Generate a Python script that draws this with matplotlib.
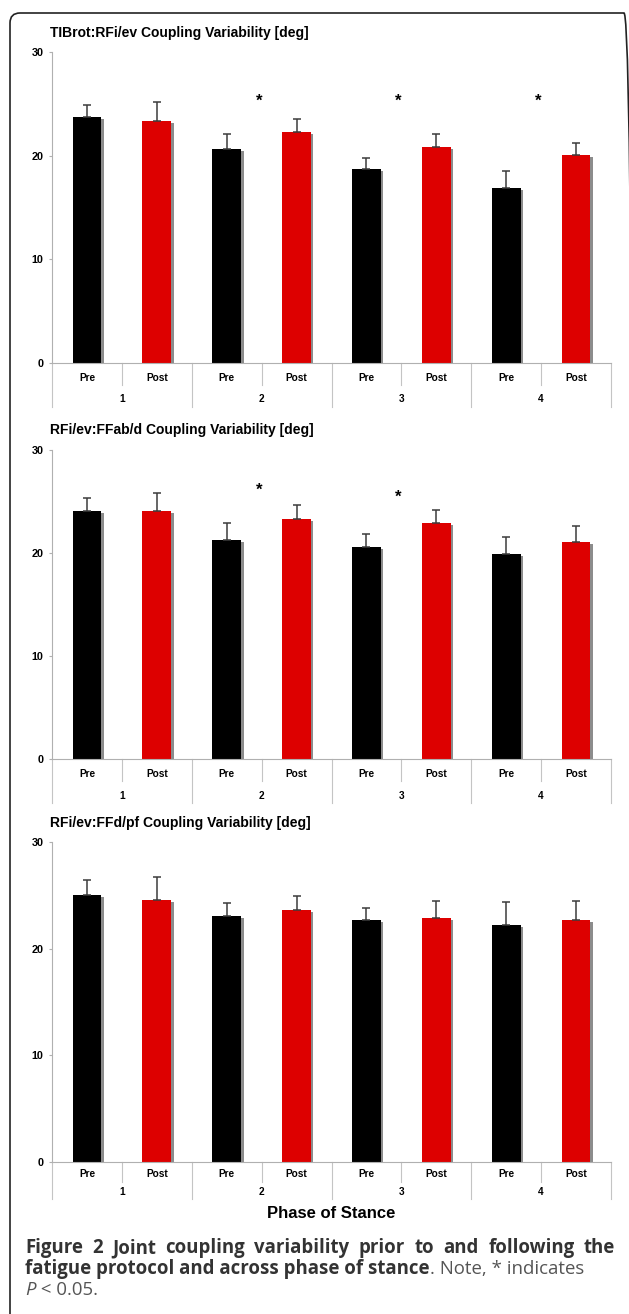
import matplotlib
matplotlib.use("Agg")
import matplotlib.pyplot as plt
from matplotlib.patches import FancyBboxPatch
from matplotlib.transforms import IdentityTransform
from matplotlib.font_manager import FontProperties
import numpy as np

# ---- data ----
phases = ["1", "2", "3", "4"]
conds = ["Pre", "Post"]

titles = ["TIBrot:RFi/ev Coupling Variability [deg]",
          "RFi/ev:FFab/d Coupling Variability [deg]",
          "RFi/ev:FFd/pf Coupling Variability [deg]"]

p1_pre = [23.7, 20.6, 18.7, 16.9]
p1_pre_sd = [1.2, 1.5, 1.1, 1.6]
p1_post = [23.3, 22.3, 20.8, 20.1]
p1_post_sd = [1.9, 1.2, 1.3, 1.1]
p1_stars = {2: 25.2, 3: 25.2, 4: 25.2}

p2_pre = [24.1, 21.3, 20.6, 19.9]
p2_pre_sd = [1.2, 1.6, 1.2, 1.7]
p2_post = [24.1, 23.3, 22.9, 21.1]
p2_post_sd = [1.7, 1.4, 1.3, 1.5]
p2_stars = {2: 26.1, 3: 25.4}

p3_pre = [25.0, 23.1, 22.7, 22.2]
p3_pre_sd = [1.4, 1.2, 1.1, 2.2]
p3_post = [24.6, 23.6, 22.9, 22.7]
p3_post_sd = [2.1, 1.3, 1.6, 1.8]
p3_stars = {}

W, H = 629, 1314
fig = plt.figure(figsize=(W / 100, H / 100), dpi=100)
fig.patch.set_facecolor("white")

# outer rounded frame (right side runs just off the image)
frame = FancyBboxPatch((10, -30), 624, 1331, boxstyle="round,pad=0,rounding_size=10",
                       fill=False, edgecolor="#222222", linewidth=1.2,
                       transform=IdentityTransform())
fig.patches.append(frame)

LEFT, RIGHT = 52, 611
black = "#000000"
red = "#dd0000"
shadow = "#8c8c8c"
sepc = "#c4c4c4"
axc = "#b0b0b0"


def panel(top, bottom, title, title_y, pre, pre_sd, post, post_sd, stars, offs):
    hpx = bottom - top
    ax = fig.add_axes([LEFT / W, 1 - bottom / H, (RIGHT - LEFT) / W, hpx / H])
    ax.set_xlim(0, 8)
    ax.set_ylim(0, 30)
    for s in ["top", "right"]:
        ax.spines[s].set_visible(False)
    ax.spines["left"].set_color(axc)
    ax.spines["bottom"].set_color(axc)
    ax.spines["left"].set_linewidth(0.8)
    ax.spines["bottom"].set_linewidth(0.8)
    ax.set_xticks([])
    ax.set_yticks([0, 10, 20, 30])
    ax.tick_params(axis="y", length=2.5, width=0.8, color=axc, pad=3.5, labelsize=7.8)
    for lab in ax.get_yticklabels():
        lab.set_fontweight("bold")
        lab.set_fontfamily("Liberation Sans")

    x = np.arange(4) * 2
    xpre = x + 0.5
    xpost = x + 1.5
    bw = 0.41
    dx = 2.6 / 70
    dy = 2.0 / hpx * 30
    for xs, vals, sd, col in [(xpre, pre, pre_sd, black), (xpost, post, post_sd, red)]:
        vals = np.array(vals)
        ax.bar(xs + dx, vals - dy, width=bw, color=shadow, zorder=1)
        ax.bar(xs, vals, width=bw, color=col, zorder=2)
        ax.errorbar(xs, vals, yerr=[np.zeros(4), sd], fmt="none", ecolor="#3c3c3c",
                    elinewidth=1.1, capsize=2.6, capthick=1.1, zorder=3)
    for ph, yv in stars.items():
        ax.text(2 * (ph - 1) + 0.96, yv, "*", ha="center", va="center",
                fontsize=12, fontweight="bold", family="Liberation Sans")

    # category axis labels
    lab_off, num_off, short_off, long_off = offs
    tr = ax.get_xaxis_transform()
    for i in range(9):
        ln = long_off if i % 2 == 0 else short_off
        ax.plot([i, i], [0, -ln / hpx], color=sepc, lw=0.8, transform=tr, clip_on=False)
    for i in range(4):
        ax.text(2 * i + 0.5, -lab_off / hpx, conds[0], transform=tr, ha="center", va="center",
                fontsize=7.3, fontweight="bold", family="Liberation Sans")
        ax.text(2 * i + 1.5, -lab_off / hpx, conds[1], transform=tr, ha="center", va="center",
                fontsize=7.3, fontweight="bold", family="Liberation Sans")
        ax.text(2 * i + 1.0, -num_off / hpx, phases[i], transform=tr, ha="center", va="center",
                fontsize=7.3, fontweight="bold", family="Liberation Sans")

    fig.text(50 / W, 1 - title_y / H, title, ha="left", va="center", fontsize=10,
             fontweight="bold", family="Liberation Sans")
    return ax


panel(52, 363, titles[0], 33, p1_pre, p1_pre_sd, p1_post, p1_post_sd, p1_stars, (15, 36, 22, 44))
panel(450, 759, titles[1], 430, p2_pre, p2_pre_sd, p2_post, p2_post_sd, p2_stars, (15, 37, 22, 44))
panel(842, 1162, titles[2], 823, p3_pre, p3_pre_sd, p3_post, p3_post_sd, p3_stars, (12, 30, 20, 37))

fig.text((LEFT + RIGHT) / 2 / W, 1 - 1214 / H, "Phase of Stance", ha="center", va="center",
         fontsize=12, fontweight="bold", family="Liberation Sans")

# caption
cap_fs = 13.4
dark = "#333333"
grey = "#555555"
r = fig.canvas.get_renderer()
cx0, cx1 = 25, 615
base1, base2, base3 = 1253, 1274, 1295


def put(xpx, base, s, weight="normal", style="normal", color=dark):
    # place text so its baseline sits exactly on `base` (pixels from top)
    fp = FontProperties(family="Open Sans", weight=weight, style=style, size=cap_fs)
    _, _, d = r.get_text_width_height_descent(s, fp, ismath=False)
    _, _, dlp = r.get_text_width_height_descent("lp", fp, ismath=False)
    yb = (H - base) - max(d, dlp)
    t = fig.text(xpx / W, yb / H, s, ha="left", va="bottom", fontproperties=fp, color=color)
    return t


# first line justified across the column
words = "Figure 2 Joint coupling variability prior to and following the".split()
ws = [put(0, base1, w_, weight="bold") for w_ in words]
widths = [t.get_window_extent(renderer=r).width for t in ws]
gap = (cx1 - cx0 - sum(widths)) / (len(words) - 1)
xpos = cx0
for t, wd in zip(ws, widths):
    t.set_x(xpos / W)
    xpos += wd + gap

t1 = put(cx0, base2, "fatigue protocol and across phase of stance", weight="bold")
bb = t1.get_window_extent(renderer=r)
put(bb.x1, base2, ". Note, * indicates", color=grey)
t3 = put(cx0, base3, "P", style="italic", color=grey)
bb3 = t3.get_window_extent(renderer=r)
put(bb3.x1, base3, " < 0.05.", color=grey)

fig.savefig("out.png", dpi=100)
